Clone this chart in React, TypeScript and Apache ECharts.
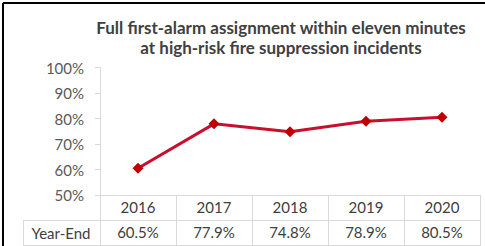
import React, { useEffect, useRef } from "react";
import * as echarts from "echarts";

const years = ["2016", "2017", "2018", "2019", "2020"];
const yearEnd = [60.5, 77.9, 74.8, 78.9, 80.5];
const rowLabel = "Year-End";
const titleLines = [
  "Full first-alarm assignment within eleven minutes",
  "at high-risk fire suppression incidents",
];

const FONT = "Lato";
const GRID = "#d9d9d9";

export default function App() {
  const ref = useRef<HTMLDivElement>(null);
  useEffect(() => {
    const chart = echarts.init(ref.current!, null, { renderer: "svg" });
    chart.setOption({
      animation: false,
      title: {
        text: titleLines.join("\n"),
        left: 276,
        textAlign: "center",
        top: 12,
        textStyle: {
          fontFamily: FONT,
          fontWeight: "bold",
          fontSize: 17,
          lineHeight: 20,
          color: "#404040",
        },
      },
      grid: { left: 100, right: 5, top: 67.5, bottom: 51, containLabel: false },
      xAxis: [
        {
          type: "category",
          data: years,
          boundaryGap: true,
          position: "bottom",
          axisLine: { show: true, lineStyle: { color: GRID, width: 1 } },
          axisTick: { show: true, length: 50, lineStyle: { color: GRID } },
          axisLabel: {
            margin: 4,
            fontFamily: FONT,
            fontSize: 15,
            color: "#404040",
            lineHeight: 15,
          },
        },
        {
          type: "category",
          data: yearEnd.map((v) => v.toFixed(1) + "%"),
          boundaryGap: true,
          position: "bottom",
          offset: 25,
          axisLine: { show: false },
          axisTick: { show: false },
          axisLabel: {
            margin: 4,
            fontFamily: FONT,
            fontSize: 15,
            color: "#404040",
            lineHeight: 15,
          },
        },
      ],
      yAxis: {
        type: "value",
        min: 50,
        max: 100,
        interval: 10,
        axisLine: { show: true, lineStyle: { color: GRID } },
        axisTick: { show: true, length: 5, lineStyle: { color: GRID } },
        splitLine: { show: false },
        axisLabel: {
          margin: 16,
          fontFamily: FONT,
          fontSize: 15,
          color: "#595959",
          formatter: (v: number) => v + "%",
        },
      },
      series: [
        {
          type: "line",
          xAxisIndex: 0,
          data: yearEnd,
          symbol: "diamond",
          symbolSize: 11,
          lineStyle: { color: "#C8102E", width: 3 },
          itemStyle: { color: "#C00000" },
        },
      ],
      graphic: [
        { type: "line", shape: { x1: 3, y1: 3, x2: 485, y2: 3 }, style: { stroke: "#000", lineWidth: 2 } },
        { type: "line", shape: { x1: 3, y1: 3, x2: 3, y2: 246 }, style: { stroke: "#000", lineWidth: 2 } },
        { type: "line", shape: { x1: 23, y1: 220.5, x2: 481, y2: 220.5 }, style: { stroke: GRID, lineWidth: 1 } },
        { type: "line", shape: { x1: 23, y1: 245.5, x2: 481, y2: 245.5 }, style: { stroke: GRID, lineWidth: 1 } },
        { type: "line", shape: { x1: 23.5, y1: 220, x2: 23.5, y2: 246 }, style: { stroke: GRID, lineWidth: 1 } },
        {
          type: "text",
          x: 61,
          y: 233,
          style: {
            text: rowLabel,
            fontFamily: FONT,
            fontSize: 15,
            fill: "#404040",
            align: "center",
            verticalAlign: "middle",
          },
        },
      ],
    });
    return () => chart.dispose();
  }, []);
  return <div ref={ref} style={{ width: 485, height: 246, position: "absolute", left: 0, top: 0 }} />;
}
